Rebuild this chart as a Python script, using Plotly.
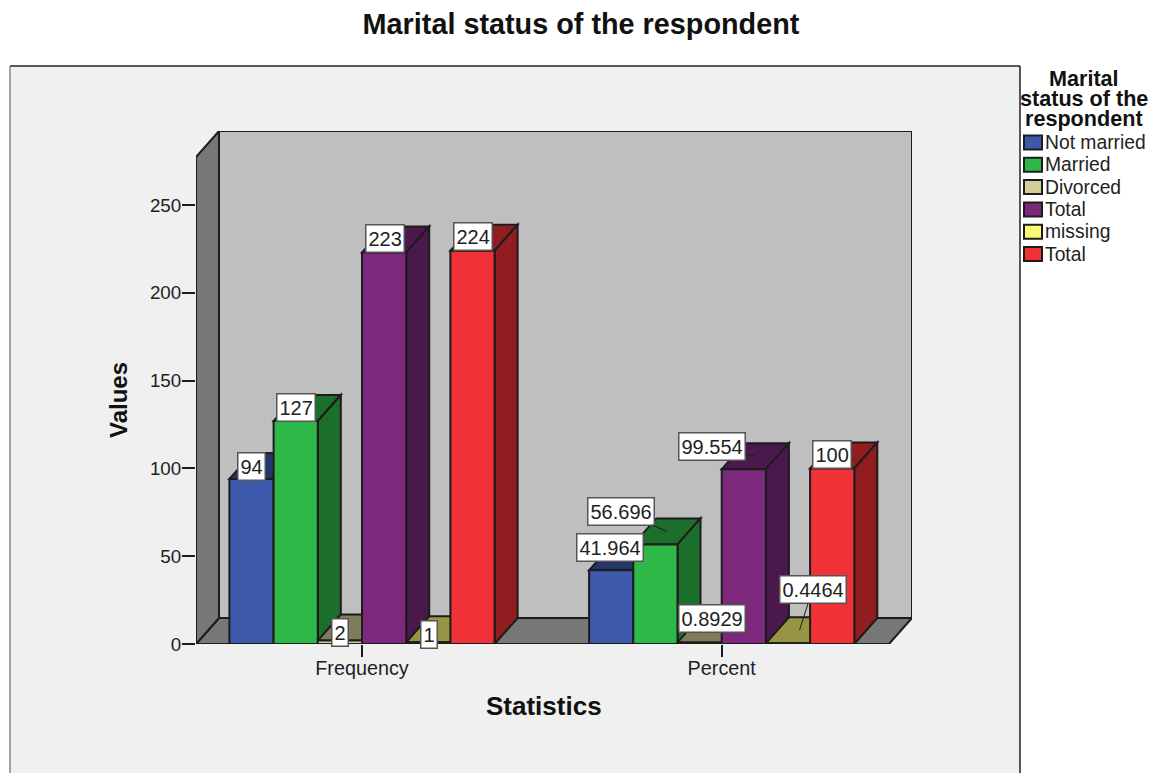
import plotly.graph_objects as go

# Chart content
statistics = ["Frequency", "Percent"]
series_names = ["Not married", "Married", "Divorced", "Total", "missing", "Total"]
not_married = [94, 41.964]
married = [127, 56.696]
divorced = [2, 0.8929]
total_valid = [223, 99.554]
missing = [1, 0.4464]
total_all = [224, 100]
y_ticks = [0, 50, 100, 150, 200, 250]

series_values = [not_married, married, divorced, total_valid, missing, total_all]

# Styling
face_colors = ["#3e58ac", "#2eb848", "#d3ce97", "#7b287d", "#fbf873", "#f03135"]
WIDTH, HEIGHT = 1163, 773
LEFT, RIGHT, TOP, BOTTOM = 196, 912, 131, 644
PX_PER_X = 359.7
PX_PER_Y = 1.756
ZERO_PX = 362.0
INK = "#1c1c1c"
TEXT = "#222222"
FONT = "Liberation Sans"
EDGE = 2

# Axis ranges follow from the pixel extent of the plotting area
x_min = (LEFT - ZERO_PX) / PX_PER_X
x_max = (RIGHT - ZERO_PX) / PX_PER_X
y_max = (BOTTOM - TOP) / PX_PER_Y

# Depth of the pseudo-3D box, in axis units
DEPTH_X = 23 / PX_PER_X
DEPTH_Y = 26 / PX_PER_Y
FRONT_RIGHT = x_max - DEPTH_X
FRONT_TOP = y_max - DEPTH_Y
BAR_W = 44.2 / PX_PER_X
BAR_GAP = 1 - 6 * BAR_W

# Data label placement: pixel offset from the centre of each bar's top face
label_offsets = [
    [(-11.5, 1), (-11.5, 0), (-11.5, 5.5), (-11, -1.4), (-11, 5.3), (-11, -1.6)],
    [(-12.7, -10.3), (-46, -20), (0.7, -10.7), (-43, -10), (13, -40.7), (-11.7, -1.4)],
]
leader_lines = [
    [False] * 6,
    [False, True, False, True, True, False],
]


def shade(hex_color, factor=0.6):
    r, g, b = (int(hex_color[i:i + 2], 16) for i in (1, 3, 5))
    return f"rgb({r * factor:.0f},{g * factor:.0f},{b * factor:.0f})"


def polygon(points, fill, line=INK, width=EDGE):
    path = "M" + "L".join(f"{x:.5f},{y:.4f}" for x, y in points) + "Z"
    return dict(type="path", path=path, xref="x", yref="y", layer="below",
                fillcolor=fill, line=dict(color=line, width=width))


def frame_line(x0, y0, x1, y1, color, width=1.5):
    return dict(type="line", xref="paper", yref="paper", layer="below",
                x0=(x0 - LEFT) / (RIGHT - LEFT), x1=(x1 - LEFT) / (RIGHT - LEFT),
                y0=(BOTTOM - y0) / (BOTTOM - TOP), y1=(BOTTOM - y1) / (BOTTOM - TOP),
                line=dict(color=color, width=width))


def frame_rect(x0, y0, x1, y1, fill):
    return dict(type="rect", xref="paper", yref="paper", layer="below",
                x0=(x0 - LEFT) / (RIGHT - LEFT), x1=(x1 - LEFT) / (RIGHT - LEFT),
                y0=(BOTTOM - y0) / (BOTTOM - TOP), y1=(BOTTOM - y1) / (BOTTOM - TOP),
                fillcolor=fill, line=dict(width=0))


shapes = [
    frame_rect(10, 66, 1020, 800, "#f0f0f0"),
    frame_line(10, 66, 1020, 66, "#222222"),
    frame_line(1020, 66, 1020, 800, "#222222"),
    frame_line(10, 66, 10, 800, "#8a8a8a"),
    # Back wall, floor and left wall of the box
    polygon([(x_min + DEPTH_X, DEPTH_Y), (x_max, DEPTH_Y), (x_max, y_max), (x_min + DEPTH_X, y_max)], "#bfbfbf"),
    polygon([(x_min, 0), (FRONT_RIGHT, 0), (x_max, DEPTH_Y), (x_min + DEPTH_X, DEPTH_Y)], "#777777"),
    polygon([(x_min, 0), (x_min, FRONT_TOP), (x_min + DEPTH_X, y_max), (x_min + DEPTH_X, DEPTH_Y)], "#777777"),
]

# Top and side faces, left to right so that each bar overlaps the previous one
for g in range(len(statistics)):
    for s, values in enumerate(series_values):
        v = values[g]
        left = g + (s - 3) * BAR_W
        right = left + BAR_W
        dark = shade(face_colors[s])
        shapes.append(polygon([(left, v), (right, v), (right + DEPTH_X, v + DEPTH_Y), (left + DEPTH_X, v + DEPTH_Y)], dark))
        shapes.append(polygon([(right, 0), (right, v), (right + DEPTH_X, v + DEPTH_Y), (right + DEPTH_X, DEPTH_Y)], dark))

fig = go.Figure()
for s, values in enumerate(series_values):
    fig.add_trace(go.Bar(
        x=list(range(len(statistics))), y=values, name=series_names[s],
        marker=dict(color=face_colors[s], line=dict(color=INK, width=EDGE)),
        showlegend=False, hoverinfo="skip",
    ))

annotations = []
for g in range(len(statistics)):
    for s, values in enumerate(series_values):
        v = values[g]
        dx, dy = label_offsets[g][s]
        ann = dict(
            x=g + (s - 2.5) * BAR_W + DEPTH_X / 2, y=v + DEPTH_Y / 2,
            xref="x", yref="y", text=f"{v:g}",
            font=dict(family=FONT, size=20, color=TEXT),
            bgcolor="white", bordercolor="#555555", borderwidth=1.5, borderpad=2,
        )
        if leader_lines[g][s]:
            ann.update(showarrow=True, arrowhead=0, arrowwidth=1, arrowcolor=INK,
                       axref="pixel", ayref="pixel", ax=dx, ay=dy)
        else:
            ann.update(showarrow=False, xshift=dx, yshift=-dy)
        annotations.append(ann)


def page_text(px, py, text, size, bold=False, angle=0, xanchor="center"):
    return dict(
        x=(px - LEFT) / (RIGHT - LEFT), y=(BOTTOM - py) / (BOTTOM - TOP),
        xref="paper", yref="paper", showarrow=False, text=f"<b>{text}</b>" if bold else text,
        textangle=angle, xanchor=xanchor, yanchor="middle",
        font=dict(family=FONT, size=size, color="#111111" if bold else TEXT),
    )


annotations.append(page_text(543.5, 706, "Statistics", 26, bold=True))
annotations.append(page_text(118, 400, "Values", 24, bold=True, angle=-90))

# Legend panel
for py, line in zip([78.5, 98.5, 118.5], ["Marital", "status of the", "respondent"]):
    annotations.append(page_text(1084, py, line, 21.6, bold=True))
for i, name in enumerate(series_names):
    cy = 142.5 + i * 22.3
    annotations.append(page_text(1043, cy, name, 19.3, xanchor="left"))
    sw = frame_rect(1024, cy - 7, 1042, cy + 7, face_colors[i])
    sw["line"] = dict(color=INK, width=EDGE)
    shapes.append(sw)

fig.update_layout(
    width=WIDTH, height=HEIGHT, autosize=False,
    margin=dict(l=LEFT, r=WIDTH - RIGHT, t=TOP, b=HEIGHT - BOTTOM, pad=0),
    paper_bgcolor="white", plot_bgcolor="rgba(0,0,0,0)",
    barmode="group", bargap=BAR_GAP, bargroupgap=0,
    title=dict(text="<b>Marital status of the respondent</b>", x=581 / WIDTH, y=1 - 24 / HEIGHT,
               xanchor="center", yanchor="middle", font=dict(family=FONT, size=28.8, color="#111111")),
    xaxis=dict(range=[x_min, x_max], tickvals=list(range(len(statistics))), ticktext=statistics,
               showgrid=False, zeroline=False, showline=False,
               ticks="outside", ticklen=12, tickwidth=2, tickcolor=INK, ticklabelstandoff=-6,
               tickfont=dict(family=FONT, size=19.8, color=TEXT)),
    yaxis=dict(range=[0, y_max], tickvals=y_ticks, showgrid=False, zeroline=False, showline=False,
               ticks="outside", ticklen=13, tickwidth=2, tickcolor=INK, ticklabelstandoff=-3,
               tickfont=dict(family=FONT, size=18.8, color=TEXT)),
    shapes=shapes, annotations=annotations, showlegend=False,
)

fig.write_html("out.html", config=dict(displayModeBar=False))
